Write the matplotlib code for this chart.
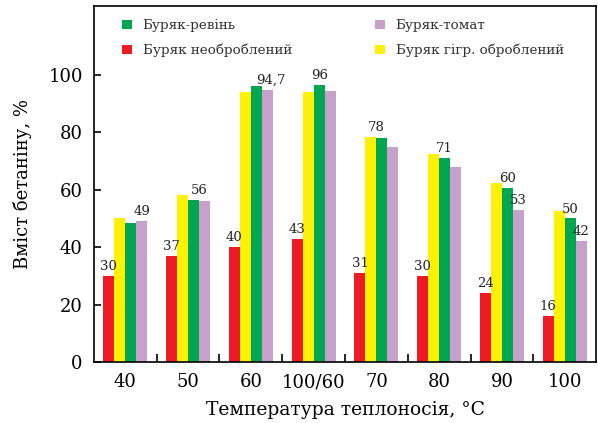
import numpy as np
import matplotlib.pyplot as plt

# температури теплоносія
kategorii = ['40', '50', '60', '100/60', '70', '80', '90', '100']

# вміст бетаніну, %
neobrobl = [30, 37, 40, 43, 31, 30, 24, 16]
gigr = [50, 58, 94, 94, 78.5, 72.5, 62.5, 52.5]
revin = [48.5, 56.5, 96, 96.5, 78, 71, 60.5, 50]
tomat = [49, 56, 94.7, 94.4, 75, 68, 53, 42.3]

# підписи над стовпчиками: (група, номер стовпчика, текст)
pidpysy = [
    (0, 0, '30'), (0, 3, '49'),
    (1, 0, '37'), (1, 2.5, '56'),
    (2, 0, '40'), (2, 3.3, '94,7'),
    (3, 0, '43'), (3, 2, '96'),
    (4, 0, '31'), (4, 1.5, '78'),
    (5, 0, '30'), (5, 2, '71'),
    (6, 0, '24'), (6, 2, '60'), (6, 3, '53'),
    (7, 0, '16'), (7, 2, '50'), (7, 3, '42'),
]

plt.rcParams['font.family'] = ['DejaVu Serif']

fig = plt.figure(figsize=(5.98, 4.23), dpi=100)
ax = fig.add_axes([0.157, 0.144, 0.84, 0.842])

x = np.arange(len(kategorii))
w = 0.175
serii = [neobrobl, gigr, revin, tomat]
kolory = ['#ED1C24', '#FFF200', '#00A651', '#C8A0CC']
nazvy = ['Буряк необроблений', 'Буряк гігр. оброблений', 'Буряк-ревінь', 'Буряк-томат']
bars = []
for i, (s, c, n) in enumerate(zip(serii, kolory, nazvy)):
    b = ax.bar(x + (i - 1.5) * w, s, w, color=c, label=n)
    bars.append(b)

for g, k, t in pidpysy:
    val = max(serii[int(np.floor(k))][g], serii[min(3, int(np.ceil(k)))][g])
    ax.text(x[g] + (k - 1.5) * w, val + 1.0, t, ha='center', va='bottom',
            fontsize=9.5, color='#222222')

ax.set_xlim(-0.5, len(kategorii) - 0.5)
ax.set_ylim(0, 124)
ax.set_yticks(range(0, 101, 20))
ax.set_xticks(x)
ax.set_xticklabels(kategorii)
ax.set_xticks(np.arange(0.5, len(kategorii) - 1, 1), minor=True)
ax.tick_params(axis='x', which='major', length=0, labelsize=13, pad=8)
ax.tick_params(axis='x', which='minor', direction='in', length=6, width=1.2)
ax.tick_params(axis='y', direction='in', length=5, width=1.2, labelsize=13, pad=8)
for sp in ax.spines.values():
    sp.set_linewidth(1.2)

ax.set_ylabel('Вміст бетаніну, %', fontsize=13, labelpad=12)
ax.set_xlabel('Температура теплоносія, °C', fontsize=13.5, labelpad=7)

h = [bars[2], bars[0], bars[3], bars[1]]
ax.legend(h, [nazvy[2], nazvy[0], nazvy[3], nazvy[1]], ncol=2, loc='upper left',
          bbox_to_anchor=(0.03, 1.0), frameon=False, fontsize=9.7,
          handlelength=0.7, handleheight=0.7, columnspacing=6.2,
          labelcolor='#333333', borderaxespad=0.6, labelspacing=0.85)

fig.savefig('out.png', dpi=100)
